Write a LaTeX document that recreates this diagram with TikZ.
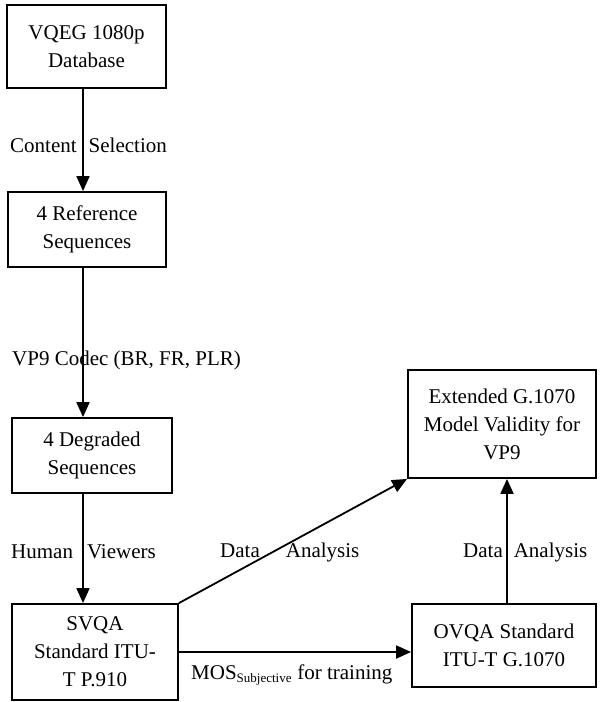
\documentclass[tikz,border=0pt]{standalone}
\usepackage{fontspec}
\setmainfont{Liberation Serif}
\usetikzlibrary{arrows.meta}
\begin{document}
\begin{tikzpicture}[x=1pt,y=-1pt,
  box/.style={draw,line width=1.8pt,align=center,inner sep=0pt,font=\fontsize{21}{28}\selectfont},
  lbl/.style={inner sep=0pt,font=\fontsize{21}{28}\selectfont},
  conn/.style={line width=1.8pt,-{Triangle[width=13pt,length=15pt]}}]
\useasboundingbox (0,0) rectangle (608,702);
\node[box,minimum width=159pt,minimum height=83pt] (b1) at (86.5,46.5) {VQEG 1080p\\Database};
\node[box,minimum width=158pt,minimum height=75pt] (b2) at (87,229.5) {4 Reference\\Sequences};
\node[box,minimum width=160pt,minimum height=75pt] (b3) at (92,455.5) {4 Degraded\\Sequences};
\node[box,minimum width=166pt,minimum height=96pt] (b4) at (95,652) {SVQA\\Standard ITU-\\T P.910};
\node[box,minimum width=184pt,minimum height=83pt] (b5) at (504,645.5) {OVQA Standard\\ITU-T G.1070};
\node[box,minimum width=188pt,minimum height=108pt] (b6) at (502,424) {Extended G.1070\\Model Validity for\\VP9};
\draw[conn] ([xshift=-3.5pt]b1.south) -- ([xshift=-3.5pt]b1.south |- b2.north);
\draw[conn] ([xshift=-4pt]b2.south) -- ([xshift=-4pt]b2.south |- b3.north);
\draw[conn] ([xshift=-9pt]b3.south) -- ([xshift=-9pt]b3.south |- b4.north);
\draw[conn] (b4.north east) -- (b6.south west);
\draw[conn] (b4.east) -- (b4.east -| b5.west);
\draw[conn] ([xshift=3pt]b5.north) -- ([xshift=3pt]b5.north |- b6.south);
\node[lbl,anchor=west] (l1) at (10,145) {Content\hspace{12pt}Selection};
\node[lbl,anchor=west] (l2) at (12,360) {VP9 Codec (BR, FR, PLR)};
\node[lbl,anchor=west] (l3) at (11,552) {Human\hspace{14pt}Viewers};
\node[lbl,anchor=west] (l4) at (220,552) {Data\hspace{26pt}Analysis};
\node[lbl,anchor=west] (l5) at (463,552) {Data\hspace{11pt}Analysis};
\node[lbl,anchor=west] (l6) at (191,675) {MOS\textsubscript{\fontsize{13}{13}\selectfont Subjective} for training};
\end{tikzpicture}
\end{document}
